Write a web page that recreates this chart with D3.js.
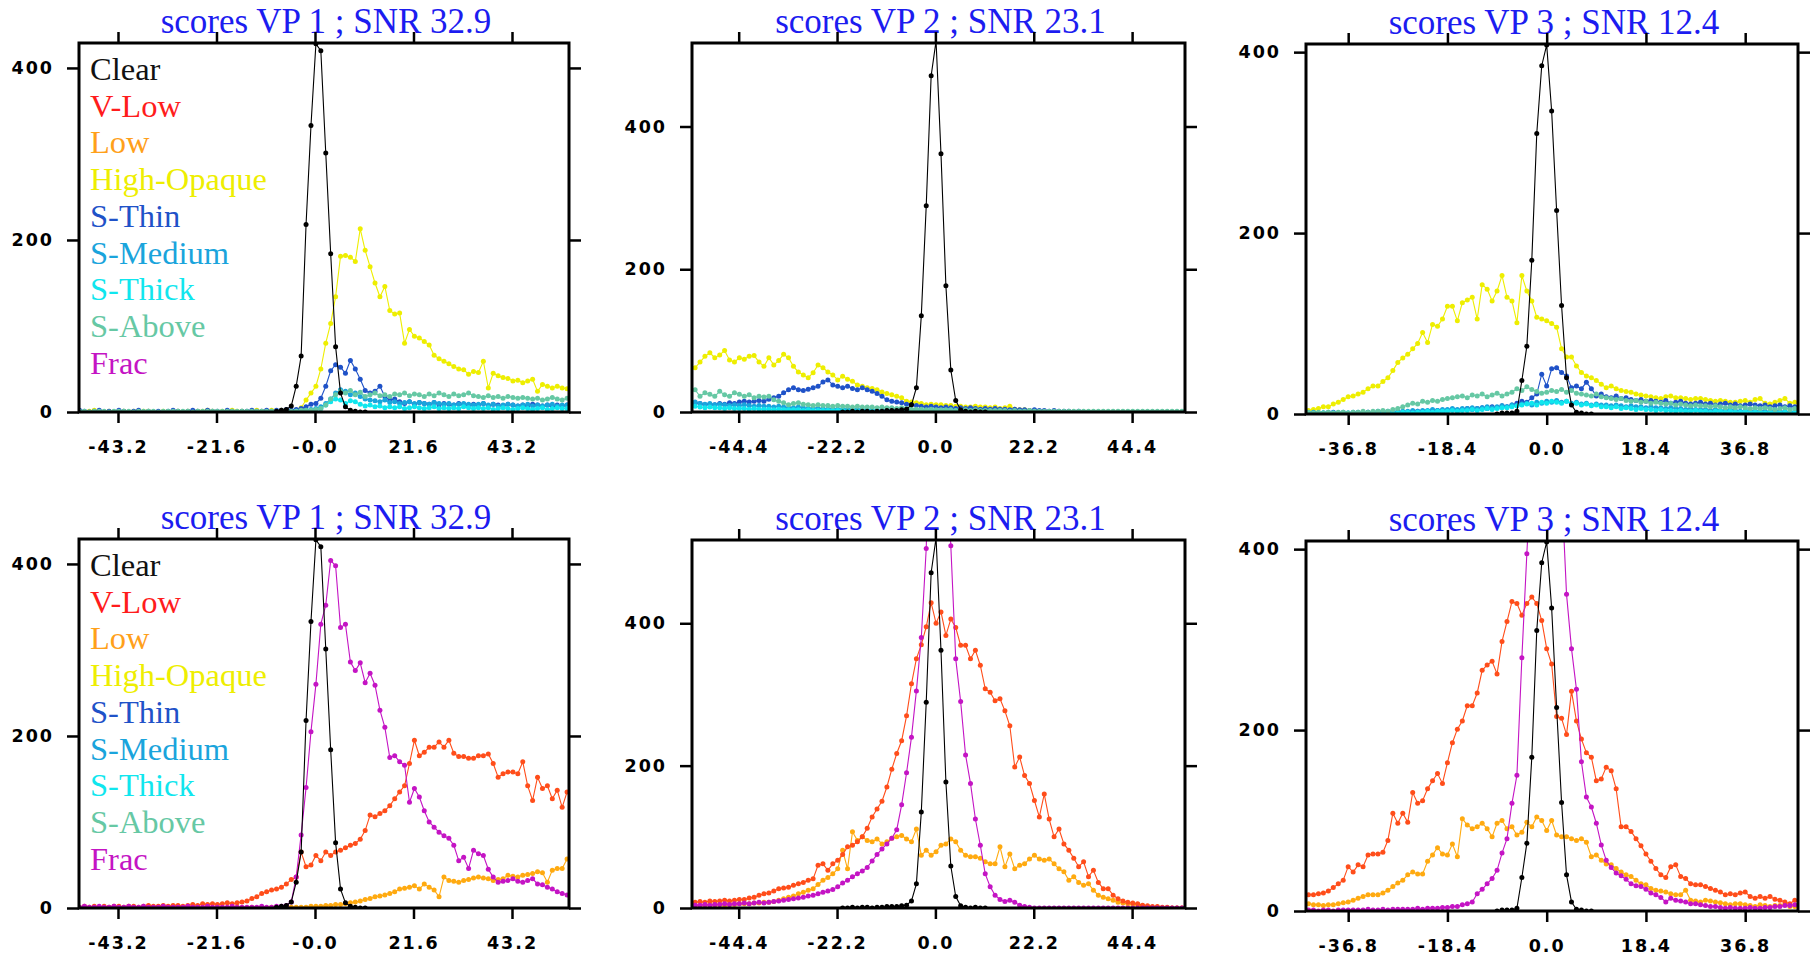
<!DOCTYPE html>
<html>
<head>
<meta charset="utf-8">
<script src="https://cdn.jsdelivr.net/npm/d3@7"></script>
<style>
  body { margin: 0; background: #fff; }
  svg { display: block; }
  .tick text { font-family: "DejaVu Sans", sans-serif; font-weight: bold; font-size: 17.5px; letter-spacing: 2px; fill: #000; }
  .title { font-family: "Liberation Serif", "Times New Roman", serif; font-size: 35px; fill: #1c1cf0; }
  .legend { font-family: "Liberation Serif", "Times New Roman", serif; font-size: 32.5px; }
</style>
</head>
<body>
<div id="chart"></div>
<script>
// ---- categories / labels ----
const categories = ["Clear", "V-Low", "Low", "High-Opaque", "S-Thin", "S-Medium", "S-Thick", "S-Above", "Frac"];
const snrValues = ["32.9", "23.1", "12.4"];
const yTickValues = [0, 200, 400];
const xTickValues = [
  [-43.2, -21.6, 0, 21.6, 43.2],
  [-44.4, -22.2, 0, 22.2, 44.4],
  [-36.8, -18.4, 0, 18.4, 36.8]
];
const xTickLabels = [
  ["-43.2", "-21.6", "-0.0", "21.6", "43.2"],
  ["-44.4", "-22.2", "0.0", "22.2", "44.4"],
  ["-36.8", "-18.4", "0.0", "18.4", "36.8"]
];
// histogram bins per VP: first bin centre and bin width
const binStart = [-51.64, -54.24, -44.16];
const binStep = [1.08, 1.11, 0.92];

// ---- series values (counts per bin, starting at bin index "from") ----
// VP 1
const clearVP1 = { from: 40, v: [1,2,3,7,30,65,218,333,428,420, 301,184,76,22,6,2,1,0,0] };
const highOpaqueVP1 = { from: 0, v: [
  1,0,1,2,1,0,1,0,1,1, 0,1,0,1,1,0,0,1,0,1, 1,0,1,0,1,1,2,1,0,1, 1,2,1,1,0,1,2,1,1,2,
  1,2,2,1,2,5,14,22,30,50, 80,103,134,181,182,180,175,213,188,169, 150,134,146,118,114,115,80,96,88,86,
  82,78,66,62,59,56,53,50,49,44, 47,46,59,28,45,42,40,39,36,37, 34,36,38,24,32,30,28,30,28,27] };
const sThinVP1 = { from: 0, v: [
  2,1,0,1,2,0,1,0,2,1, 0,1,2,0,1,0,1,0,1,2, 1,0,1,2,1,0,2,1,1,0, 2,1,0,1,1,2,1,1,2,1,
  2,2,3,2,3,4,6,9,10,16, 30,48,55,52,45,60,50,38,25,22, 24,30,18,14,15,12,10,12,9,11,
  10,9,11,8,10,9,8,10,9,8, 9,8,10,7,9,8,7,9,8,7, 8,7,9,8,7,8,6,8,7,8] };
const sMediumVP1 = { from: 40, v: [
  0,1,1,0,1,1,2,3,4,6, 10,15,22,26,24,20,22,18,15,14, 13,12,14,11,12,10,11,12,10,11,
  10,9,11,10,9,10,8,9,10,9, 8,9,10,8,9,7,8,9,8,7, 8,9,7,8,7,8,9,7,8,8] };
const sThickVP1 = { from: 40, v: [
  0,0,1,0,1,1,1,2,2,4, 8,12,15,14,10,13,12,9,7,8, 6,7,5,6,5,6,4,5,6,5,
  4,5,6,4,5,4,5,4,6,5, 4,5,4,5,3,4,5,4,3,4, 5,4,3,4,5,3,4,5,4,4] };
const sAboveVP1 = { from: 0, v: [
  1,1,0,1,1,1,0,1,1,1, 1,0,1,1,1,1,0,1,1,1, 1,1,1,0,1,1,1,1,1,1, 1,1,1,1,1,1,1,1,1,1,
  1,1,1,1,1,2,2,2,3,4, 8,15,20,24,22,25,20,23,18,20, 22,19,20,18,21,20,22,19,21,20,
  18,21,19,22,20,18,21,19,20,22, 19,18,17,19,17,18,16,18,17,16, 17,16,15,16,14,15,17,15,14,16] };
const vLowVP1 = { from: 0, v: [
  1,2,1,2,1,2,1,2,2,1, 2,2,1,2,3,2,2,3,2,3, 3,2,3,4,3,5,4,5,4,5, 6,5,6,7,8,11,13,17,19,21,
  22,24,28,33,36,65,48,50,61,55, 65,61,65,67,70,73,75,80,90,108, 106,110,113,119,127,135,142,168,195,177,
  181,187,187,193,187,195,180,176,176,174, 174,177,177,179,168,152,156,158,158,156, 170,142,125,152,139,142,127,137,117,135] };
const lowVP1 = { from: 30, v: [
  0,0,1,0,0,1,0,1,0,1, 0,1,0,1,1,1,1,2,2,2, 3,3,4,4,5,6,7,8,10,11, 13,14,15,17,19,22,23,24,26,22,
  28,24,21,13,36,32,31,30,32,33, 35,36,35,34,32,33,34,38,37,36, 38,39,40,42,41,30,44,46,46,57] };
const fracVP1 = { from: 0, v: [
  1,2,1,1,2,1,1,2,1,1, 2,1,1,2,1,1,1,2,1,1, 1,1,2,1,1,1,2,1,1,1, 1,2,1,1,1,1,1,2,1,1,
  2,2,3,7,36,85,140,205,260,330, 352,404,398,326,330,286,276,285,262,273, 259,230,210,175,177,170,166,123,139,129,
  113,100,94,88,84,81,73,55,59,46, 67,63,61,45,36,30,31,32,34,31, 30,32,34,28,27,24,22,19,17,15] };

// VP 2
const clearVP2 = { from: 30, v: [0,0,1,0,1,1,0,1,1,2, 2,2,3,4,10,34,135,289,471,520, 362,177,59,16,3,1,0,1,0,0] };
const highOpaqueVP2 = { from: 0, v: [
  62,70,78,83,76,80,86,73,70,76, 74,78,79,70,64,76,66,72,81,76, 64,56,52,48,55,66,62,56,52,45,
  50,46,43,38,36,34,33,31,28,26, 24,22,20,15,14,13,12,10,11,10, 10,9,9,8,8,7,7,8,7,7,
  6,7,5,6,8,4,3,3,2,2, 1,1,0,1,0,0,0,0,0,0, 0,0,0,0,0,0,0,0,0,0, 0,0,0,0,0,0,0,0,0,0] };
const sThinVP2 = { from: 0, v: [
  13,12,10,11,10,12,11,13,12,14, 15,14,15,16,15,18,20,22,27,31, 34,31,30,32,34,36,42,45,38,36,
  34,36,33,31,34,31,29,26,22,17, 15,14,13,11,10,9,8,7,8,7, 6,7,6,5,6,5,6,5,4,5,
  4,5,4,4,3,4,3,3,2,3, 2,2,1,2,1,1,1,0,1,0, 0,0,0,0,0,0,0,0,0,0, 0,0,0,0,0,0,0,0,0,0] };
const sMediumVP2 = { from: 0, v: [
  14,12,11,12,10,11,10,9,10,9, 10,9,8,9,8,8,7,8,7,6, 6,7,6,5,6,5,5,4,5,4,
  4,4,3,4,3,3,3,2,3,2, 2,3,2,2,2,3,2,2,3,2, 2,2,3,2,2,2,1,2,1,2,
  1,1,2,1,1,1,1,1,0,1, 0,0,0,0,0,0,0,0,0,0] };
const sThickVP2 = { from: 0, v: [
  8,7,6,7,6,6,5,6,5,5, 5,4,5,4,4,4,3,4,3,3, 3,3,2,3,2,2,2,2,2,2,
  2,1,2,1,1,2,1,1,1,1, 1,1,1,1,1,1,1,1,1,1, 1,1,1,1,1,1,1,1,1,0] };
const sAboveVP2 = { from: 0, v: [
  31,22,27,25,22,29,24,22,27,25, 22,24,20,22,21,22,17,15,13,10, 12,13,11,10,9,10,9,9,8,9,
  8,8,7,8,7,7,7,6,7,6, 6,5,6,5,4,4,4,3,4,3, 3,3,3,2,3,3,2,3,2,2,
  2,2,2,2,1,2,1,1,2,1, 1,1,1,1,1,1,1,1,1,1, 1,1,1,1,1,1,1,1,1,1, 1,1,1,1,1,1,1,1,1,1] };
const vLowVP2 = { from: 0, v: [
  8,9,8,10,9,10,11,10,11,12, 12,14,15,18,20,21,24,27,28,29, 32,34,36,39,41,60,62,53,62,67,
  75,86,88,93,100,112,128,139,150,170, 195,217,235,270,315,350,370,395,429,400, 416,383,406,394,369,369,350,362,341,308,
  303,291,294,277,256,198,212,186,175,151, 128,160,125,100,111,90,81,70,58,65, 44,53,36,27,27,18,13,10,8,7, 6,4,3,2,2,1,1,0,0,0] };
const lowVP2 = { from: 0, v: [
  4,3,4,5,4,5,4,5,5,6, 6,6,7,7,8,8,9,11,13,15, 17,20,22,25,27,33,39,43,48,55,
  81,55,107,95,100,95,93,97,90,93, 98,100,102,97,93,111,74,81,74,79, 88,90,97,93,81,74,72,72,70,65,
  62,62,86,58,76,55,60,62,69,74, 69,67,69,62,55,51,39,44,36,32, 34,25,18,15,13,11,8,7,6,5, 5,2,1,0,0,0,0,0,0,0] };
const fracVP2 = { from: 0, v: [
  4,4,5,4,5,5,6,5,6,6, 7,6,7,8,7,8,9,10,11,12, 13,14,15,17,18,20,22,24,26,30,
  35,39,44,48,52,57,66,75,83,90, 98,110,145,190,240,305,380,505,780,900, 820,680,509,350,290,215,175,125,88,48,
  30,18,12,9,11,8,4,2,1,0, 0,0,0,0,0,0,0,0,0,0, 0,0,0,0,0,0,0,0,0,0, 0,0,0,0,0,0,0,0,0,0] };

// VP 3
const clearVP3 = { from: 38, v: [0,1,1,1,3,37,75,170,310,385, 408,335,225,120,40,10,2,1,0,0] };
const highOpaqueVP3 = { from: 0, v: [
  4,5,6,8,8,11,13,16,19,20, 22,24,28,31,31,36,40,48,57,62, 66,72,78,90,79,99,97,105,119,119,
  103,123,126,129,105,143,138,125,136,153, 129,125,101,153,136,125,107,105,103,100, 96,72,63,63,53,46,42,40,37,33,
  29,31,28,26,25,24,22,21,20,19, 18,17,19,20,18,18,17,16,17,17, 16,15,14,15,14,13,13,14,15,13, 16,17,12,11,13,15,17,12,13,14] };
const sThinVP3 = { from: 0, v: [
  1,1,0,1,1,2,1,1,0,1, 1,1,2,1,1,2,1,2,2,1, 2,2,3,2,3,3,4,3,4,5, 4,5,6,5,6,7,6,8,7,9,
  8,10,12,14,13,18,22,44,31,50, 51,46,42,29,31,28,35,28,20,22, 19,18,20,17,18,16,15,16,14,15,
  14,13,15,12,13,14,12,11,12,13, 11,12,10,11,12,10,11,9,10,11, 10,9,10,8,9,10,8,9,8,7] };
const sMediumVP3 = { from: 0, v: [
  1,2,1,1,2,1,1,2,1,2, 2,1,2,2,3,2,3,2,3,3, 3,4,3,4,4,5,4,5,5,6, 5,6,6,7,6,7,8,7,8,9,
  8,10,9,11,12,10,13,12,14,13, 15,13,14,12,13,11,12,10,11,10, 10,9,10,9,8,9,8,8,7,8,
  7,7,6,7,6,6,5,6,5,5, 5,4,5,4,4,5,4,3,4,4, 3,4,3,3,4,3,3,2,3,3] };
const sThickVP3 = { from: 0, v: [
  1,0,1,1,0,1,1,0,1,1, 1,1,0,1,1,1,2,1,1,2, 2,1,2,2,3,2,3,3,3,4, 3,4,4,5,4,5,6,5,6,7,
  7,8,9,10,11,12,10,13,12,14, 13,12,14,11,12,10,11,9,10,8, 8,7,8,6,7,6,5,6,5,5,
  4,5,4,4,3,4,3,3,4,3, 3,2,3,3,2,3,2,2,3,2, 2,2,1,2,2,1,2,1,2,1] };
const sAboveVP3 = { from: 0, v: [
  2,1,2,1,2,1,2,2,1,2, 2,3,2,3,3,4,3,5,6,8, 10,12,11,14,13,15,14,16,17,18, 19,20,18,21,20,22,19,21,23,20,
  22,24,28,26,30,27,25,23,24,26, 25,27,24,26,23,22,21,20,22,19, 18,17,16,17,15,14,15,13,14,12,
  13,12,11,12,10,11,10,9,10,9, 9,8,9,8,7,8,7,8,7,6, 7,6,7,6,5,6,7,5,6,5] };
const vLowVP3 = { from: 0, v: [
  18,18,19,20,22,26,30,34,49,43, 51,49,62,63,63,65,78,108,97,108, 98,131,119,122,135,144,152,141,164,186,
  201,210,227,227,241,266,272,276,262,298, 320,342,340,327,340,347,340,321,290,273, 215,213,195,243,210,190,175,170,144,146,
  159,155,135,93,93,88,80,72,63,55, 47,40,37,49,51,38,36,30,29,29, 27,25,23,21,18,19,18,20,21,16, 14,16,14,16,13,12,10,8,12,10] };
const lowVP3 = { from: 0, v: [
  8,7,7,6,7,7,8,9,10,12, 14,16,18,18,18,20,23,27,31,34, 40,43,41,41,55,62,70,63,62,74,
  60,102,95,91,93,97,91,82,97,100, 91,93,84,87,98,93,104,100,89,100, 84,82,82,80,78,80,76,60,62,56,
  52,51,47,43,40,38,34,30,29,25, 23,22,21,19,18,18,23,12,11,10, 12,11,10,9,8,7,8,8,7,6, 5,7,6,5,6,6,7,5,5,5] };
const fracVP3 = { from: 0, v: [
  1,1,0,1,1,0,1,1,1,1, 1,1,2,1,1,2,1,2,2,2, 2,2,3,2,3,3,3,4,4,5,
  5,7,8,10,19,24,30,36,45,64, 80,119,150,280,395,500,580,640,660,630, 560,470,350,290,245,165,126,115,97,73,
  56,48,42,39,35,30,28,27,24,20, 18,15,10,14,12,11,10,8,8,7, 6,5,5,4,3,4,3,3,3,4, 3,3,4,4,5,5,6,6,7,7] };

// ---- styles ----
const textColor = {
  "Clear": "#111111", "V-Low": "#ff1c1c", "Low": "#ffa01a", "High-Opaque": "#eeee00",
  "S-Thin": "#1f52c8", "S-Medium": "#1aa4dc", "S-Thick": "#10e6ee", "S-Above": "#66c8a4", "Frac": "#c414c4"
};
const lineColor = {
  "Clear": "#000000", "V-Low": "#ff4d1a", "Low": "#ffaa10", "High-Opaque": "#eeee00",
  "S-Thin": "#1f52c8", "S-Medium": "#1aa4dc", "S-Thick": "#10e6ee", "S-Above": "#66c8a4", "Frac": "#c414c4"
};

// panel layout (pixel frames) and axis extents
const frames = [
  { x0: 79, x1: 569, y0: 43, y1: 412 },
  { x0: 692, x1: 1185, y0: 43, y1: 412 },
  { x0: 1306, x1: 1798, y0: 44, y1: 414 },
  { x0: 79, x1: 569, y0: 539, y1: 908 },
  { x0: 692, x1: 1185, y0: 540, y1: 908 },
  { x0: 1306, x1: 1798, y0: 541, y1: 911 }
];
const xDomains = [[-51.75, 55.7], [-54.94, 56.34], [-44.62, 46.59]];
const yTops = [429, 517, 409];

const panels = [
  { vp: 0, legend: true, series: [["High-Opaque", highOpaqueVP1], ["S-Thin", sThinVP1], ["S-Medium", sMediumVP1], ["S-Thick", sThickVP1], ["S-Above", sAboveVP1], ["Clear", clearVP1]] },
  { vp: 1, legend: false, series: [["High-Opaque", highOpaqueVP2], ["S-Thin", sThinVP2], ["S-Medium", sMediumVP2], ["S-Thick", sThickVP2], ["S-Above", sAboveVP2], ["Clear", clearVP2]] },
  { vp: 2, legend: false, series: [["High-Opaque", highOpaqueVP3], ["S-Thin", sThinVP3], ["S-Medium", sMediumVP3], ["S-Thick", sThickVP3], ["S-Above", sAboveVP3], ["Clear", clearVP3]] },
  { vp: 0, legend: true, series: [["Low", lowVP1], ["V-Low", vLowVP1], ["Frac", fracVP1], ["Clear", clearVP1]] },
  { vp: 1, legend: false, series: [["Low", lowVP2], ["V-Low", vLowVP2], ["Frac", fracVP2], ["Clear", clearVP2]] },
  { vp: 2, legend: false, series: [["Low", lowVP3], ["V-Low", vLowVP3], ["Frac", fracVP3], ["Clear", clearVP3]] }
];

const svg = d3.select("#chart").append("svg")
  .attr("width", 1814)
  .attr("height", 956);

panels.forEach((p, k) => {
  const f = frames[k];
  const x = d3.scaleLinear().domain(xDomains[p.vp]).range([f.x0, f.x1]);
  const y = d3.scaleLinear().domain([0, yTops[p.vp]]).range([f.y1, f.y0]);

  const g = svg.append("g");

  g.append("clipPath").attr("id", "clip" + k)
    .append("rect")
    .attr("x", f.x0).attr("y", f.y0)
    .attr("width", f.x1 - f.x0).attr("height", f.y1 - f.y0);

  // title
  g.append("text")
    .attr("class", "title")
    .attr("x", (f.x0 + f.x1) / 2 + 2)
    .attr("y", f.y0 - 10)
    .attr("text-anchor", "middle")
    .text(`scores VP ${p.vp + 1} ; SNR ${snrValues[p.vp]}`);

  // legend
  if (p.legend) {
    g.selectAll(".legend")
      .data(categories)
      .join("text")
      .attr("class", "legend")
      .attr("x", f.x0 + 11)
      .attr("y", (d, i) => f.y0 + 37 + i * 36.7)
      .attr("fill", (d) => textColor[d])
      .text((d) => d);
  }

  // series
  const plot = g.append("g").attr("clip-path", `url(#clip${k})`);
  const line = d3.line().x((d) => x(d[0])).y((d) => y(d[1]));

  p.series.forEach(([name, s]) => {
    const pts = s.v.map((v, j) => [binStart[p.vp] + (s.from + j) * binStep[p.vp], v]);
    const sg = plot.append("g");
    sg.append("path")
      .datum(pts)
      .attr("d", line)
      .attr("fill", "none")
      .attr("stroke", lineColor[name])
      .attr("stroke-width", 1.1);
    sg.selectAll("circle")
      .data(pts)
      .join("circle")
      .attr("cx", (d) => x(d[0]))
      .attr("cy", (d) => y(d[1]))
      .attr("r", 2.5)
      .attr("fill", lineColor[name]);
  });

  // axes
  const xt = xTickValues[p.vp];
  const xl = xTickLabels[p.vp];

  const bottom = g.append("g")
    .attr("transform", `translate(0,${f.y1})`)
    .call(d3.axisBottom(x).tickValues(xt).tickFormat((d, i) => xl[i]).tickSize(11).tickSizeOuter(0).tickPadding(18));
  const top = g.append("g")
    .attr("transform", `translate(0,${f.y0})`)
    .call(d3.axisTop(x).tickValues(xt).tickFormat("").tickSize(11).tickSizeOuter(0));
  const left = g.append("g")
    .attr("transform", `translate(${f.x0},0)`)
    .call(d3.axisLeft(y).tickValues(yTickValues).tickFormat(d3.format("d")).tickSize(12).tickSizeOuter(0).tickPadding(13));
  const right = g.append("g")
    .attr("transform", `translate(${f.x1},0)`)
    .call(d3.axisRight(y).tickValues(yTickValues).tickFormat("").tickSize(12).tickSizeOuter(0));

  [bottom, top, left, right].forEach((a) => {
    a.select(".domain").remove();
    a.selectAll(".tick line").attr("stroke", "#000").attr("stroke-width", 2.5);
  });

  // frame
  g.append("rect")
    .attr("x", f.x0).attr("y", f.y0)
    .attr("width", f.x1 - f.x0).attr("height", f.y1 - f.y0)
    .attr("fill", "none")
    .attr("stroke", "#000")
    .attr("stroke-width", 3);
});
</script>
</body>
</html>
